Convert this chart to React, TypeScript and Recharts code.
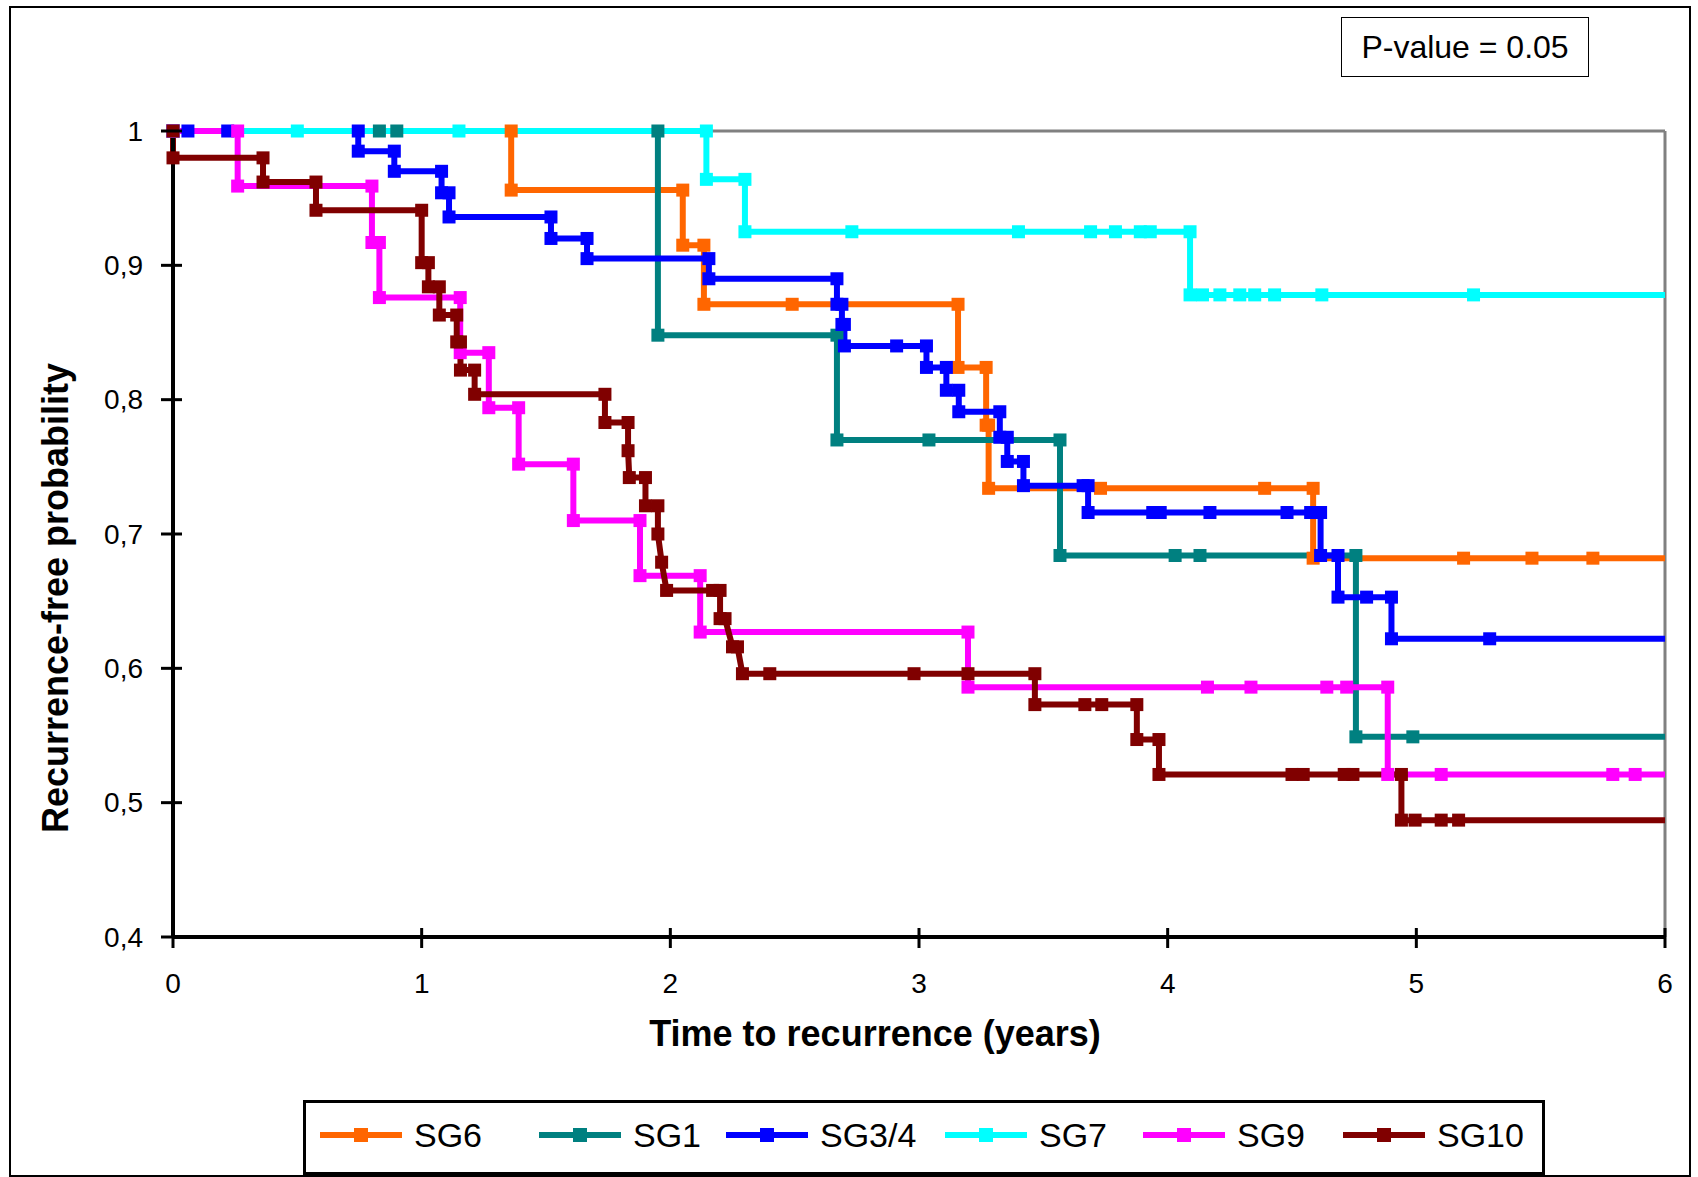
import React from "react";
import { LineChart, Line, XAxis, YAxis, ReferenceLine, Legend } from "recharts";

// time (years), recurrence-free probability
const sg6: [number, number][] = [
  [0, 1], [1.36, 1], [1.36, 0.956], [2.05, 0.956], [2.05, 0.915], [2.135, 0.915],
  [2.135, 0.871], [2.49, 0.871], [3.157, 0.871], [3.157, 0.824], [3.27, 0.824],
  [3.27, 0.781], [3.28, 0.781], [3.28, 0.734], [3.73, 0.734], [4.39, 0.734],
  [4.585, 0.734], [4.585, 0.682], [5.19, 0.682], [5.465, 0.682], [5.71, 0.682], [6, 0.682],
];

const sg1: [number, number][] = [
  [0, 1], [0.83, 1], [0.9, 1], [1.95, 1], [1.95, 0.848], [2.67, 0.848], [2.67, 0.77],
  [3.04, 0.77], [3.567, 0.77], [3.567, 0.684], [4.03, 0.684], [4.13, 0.684],
  [4.757, 0.684], [4.757, 0.549], [4.986, 0.549], [6, 0.549],
];

const sg34: [number, number][] = [
  [0, 1], [0.06, 1], [0.22, 1], [0.745, 1], [0.745, 0.985], [0.89, 0.985], [0.89, 0.97],
  [1.08, 0.97], [1.08, 0.954], [1.11, 0.954], [1.11, 0.936], [1.52, 0.936], [1.52, 0.92],
  [1.665, 0.92], [1.665, 0.905], [2.155, 0.905], [2.155, 0.89], [2.67, 0.89],
  [2.67, 0.871], [2.69, 0.871], [2.69, 0.856], [2.7, 0.856], [2.7, 0.84], [2.91, 0.84],
  [3.03, 0.84], [3.03, 0.824], [3.11, 0.824], [3.11, 0.807], [3.16, 0.807],
  [3.16, 0.791], [3.325, 0.791], [3.325, 0.772], [3.355, 0.772], [3.355, 0.754],
  [3.42, 0.754], [3.42, 0.736], [3.66, 0.736], [3.68, 0.736], [3.68, 0.716],
  [3.94, 0.716], [3.97, 0.716], [4.17, 0.716], [4.48, 0.716], [4.575, 0.716],
  [4.615, 0.716], [4.615, 0.684], [4.685, 0.684], [4.685, 0.653], [4.8, 0.653],
  [4.9, 0.653], [4.9, 0.622], [5.295, 0.622], [6, 0.622],
];

const sg7: [number, number][] = [
  [0, 1], [0.5, 1], [1.15, 1], [2.145, 1], [2.145, 0.964], [2.3, 0.964], [2.3, 0.925],
  [2.73, 0.925], [3.4, 0.925], [3.69, 0.925], [3.79, 0.925], [3.89, 0.925],
  [3.93, 0.925], [4.09, 0.925], [4.09, 0.878], [4.14, 0.878], [4.21, 0.878],
  [4.29, 0.878], [4.35, 0.878], [4.43, 0.878], [4.62, 0.878], [5.23, 0.878], [6, 0.878],
];

const sg9: [number, number][] = [
  [0, 1], [0.26, 1], [0.26, 0.959], [0.8, 0.959], [0.8, 0.917], [0.83, 0.917],
  [0.83, 0.876], [1.155, 0.876], [1.155, 0.835], [1.27, 0.835], [1.27, 0.794],
  [1.39, 0.794], [1.39, 0.752], [1.61, 0.752], [1.61, 0.71], [1.878, 0.71],
  [1.878, 0.669], [2.12, 0.669], [2.12, 0.627], [3.197, 0.627], [3.197, 0.586],
  [4.16, 0.586], [4.335, 0.586], [4.64, 0.586], [4.72, 0.586], [4.885, 0.586],
  [4.885, 0.521], [5.1, 0.521], [5.79, 0.521], [5.88, 0.521], [6, 0.521],
];

const sg10: [number, number][] = [
  [0, 1], [0, 0.98], [0.362, 0.98], [0.362, 0.962], [0.575, 0.962], [0.575, 0.941],
  [1.0, 0.941], [1.0, 0.902], [1.027, 0.902], [1.027, 0.884], [1.071, 0.884],
  [1.071, 0.863], [1.141, 0.863], [1.141, 0.843], [1.156, 0.843], [1.156, 0.822],
  [1.213, 0.822], [1.213, 0.804], [1.737, 0.804], [1.737, 0.783], [1.83, 0.783],
  [1.83, 0.762], [1.835, 0.742], [1.9, 0.742], [1.9, 0.721], [1.95, 0.721],
  [1.95, 0.7], [1.965, 0.679], [1.985, 0.658], [2.17, 0.658], [2.2, 0.658],
  [2.2, 0.637], [2.22, 0.637], [2.25, 0.616], [2.27, 0.616], [2.29, 0.596],
  [2.4, 0.596], [2.98, 0.596], [3.197, 0.596], [3.466, 0.596], [3.466, 0.573],
  [3.667, 0.573], [3.735, 0.573], [3.876, 0.573], [3.876, 0.547], [3.965, 0.547],
  [3.965, 0.521], [4.5, 0.521], [4.545, 0.521], [4.71, 0.521], [4.745, 0.521],
  [4.94, 0.521], [4.94, 0.487], [4.995, 0.487], [5.1, 0.487], [5.17, 0.487], [6, 0.487],
];

const xTicks = [0, 1, 2, 3, 4, 5, 6];
const yTicks = [0.4, 0.5, 0.6, 0.7, 0.8, 0.9, 1];

const series = [
  { name: "SG6", color: "#FF6600", points: sg6 },
  { name: "SG1", color: "#008080", points: sg1 },
  { name: "SG3/4", color: "#0000FF", points: sg34 },
  { name: "SG7", color: "#00FFFF", points: sg7 },
  { name: "SG9", color: "#FF00FF", points: sg9 },
  { name: "SG10", color: "#800000", points: sg10 },
];

const FONT = '"Liberation Sans", Arial, sans-serif';

// legend item left edges inside the legend box
const legendX = [14, 233, 420, 639, 837, 1037];

const XTick = (props: any) => {
  const { x, y, payload } = props;
  return (
    <g>
      <line x1={x} x2={x} y1={y - 9} y2={y + 11} stroke="#000" strokeWidth={3} />
      <text x={x} y={y + 46} textAnchor="middle" dominantBaseline="central"
        fontSize={28} fontFamily={FONT} fill="#000">
        {payload.value}
      </text>
    </g>
  );
};

const YTick = (props: any) => {
  const { x, y, payload } = props;
  const v = payload.value;
  const label = v === 1 ? "1" : v.toFixed(1).replace(".", ",");
  return (
    <g>
      <line x1={x - 12} x2={x + 9} y1={y} y2={y} stroke="#000" strokeWidth={3} />
      <text x={x - 30} y={y} textAnchor="end" dominantBaseline="central"
        fontSize={28} fontFamily={FONT} fill="#000">
        {label}
      </text>
    </g>
  );
};

const squareDot = (color: string, count: number) => (props: any) => {
  const { cx, cy, index } = props;
  if (index === count - 1 || cx == null) return <g key={`d${index}`} />;
  return <rect key={`d${index}`} x={cx - 6.5} y={cy - 6.5} width={13} height={13} fill={color} />;
};

// keep the legend in series order (recharts sorts the payload by name)
const renderLegend = (props: any) => {
  const payload = props.payload || [];
  const items = series.map((s) => payload.find((p: any) => p.value === s.name) || { value: s.name, color: s.color });
  return (
    <svg width={1236} height={69} style={{ display: "block" }}>
      {items.map((item: any, i: number) => {
        const x0 = legendX[i];
        return (
          <g key={item.value}>
            <line x1={x0} x2={x0 + 82} y1={32} y2={32} stroke={item.color} strokeWidth={6} />
            <rect x={x0 + 34} y={25} width={14} height={14} fill={item.color} />
            <text x={x0 + 94} y={32} dominantBaseline="central" fontSize={34}
              fontFamily={FONT} fill="#000">
              {item.value}
            </text>
          </g>
        );
      })}
    </svg>
  );
};

export default function App() {
  return (
    <div style={{ position: "absolute", left: 0, top: 0, width: 1698, height: 1177, background: "#fff", fontFamily: FONT }}>
      <div style={{ position: "absolute", left: 9, top: 6, width: 1682, height: 1171, border: "2px solid #000", boxSizing: "border-box" }} />
      <div style={{ position: "absolute", left: 0, top: 0 }}>
        <LineChart width={1698} height={1177} margin={{ top: 131, right: 33, bottom: 140, left: 73 }}>
          <XAxis type="number" dataKey="t" domain={[0, 6]} ticks={xTicks} height={100}
            axisLine={{ stroke: "#000", strokeWidth: 4 }} tickLine={false} tickSize={0} tickMargin={0}
            tick={<XTick />} interval={0} />
          <YAxis type="number" dataKey="p" domain={[0.4, 1]} ticks={yTicks} width={100}
            axisLine={{ stroke: "#000", strokeWidth: 4 }} tickLine={false} tickSize={0} tickMargin={0}
            tick={<YTick />} interval={0} />
          <ReferenceLine y={1} stroke="#808080" strokeWidth={3} />
          <ReferenceLine x={6} stroke="#808080" strokeWidth={3} />
          {series.map((s) => {
            const data = s.points.map(([t, p]) => ({ t, p }));
            return (
              <Line key={s.name} name={s.name} data={data} dataKey="p" type="linear"
                stroke={s.color} strokeWidth={6} dot={squareDot(s.color, data.length)}
                activeDot={false} isAnimationActive={false} />
            );
          })}
          <Legend layout="horizontal" verticalAlign="middle" align="center" content={renderLegend}
            wrapperStyle={{ position: "absolute", left: 303, top: 1100, width: 1242, height: 75,
              border: "3px solid #000", boxSizing: "border-box", background: "#fff" }} />
        </LineChart>
      </div>
      <div style={{ position: "absolute", left: 1341, top: 17, width: 248, height: 60, border: "1.5px solid #000",
        boxSizing: "border-box", display: "flex", alignItems: "center", justifyContent: "center",
        fontSize: 32, color: "#000", background: "#fff" }}>
        P-value = 0.05
      </div>
      <div style={{ position: "absolute", left: 875, top: 1034, transform: "translate(-50%, -50%)",
        fontSize: 36, fontWeight: "bold", whiteSpace: "nowrap", color: "#000" }}>
        Time to recurrence (years)
      </div>
      <div style={{ position: "absolute", left: 56, top: 598, transform: "translate(-50%, -50%) rotate(-90deg)",
        fontSize: 36, fontWeight: "bold", whiteSpace: "nowrap", color: "#000" }}>
        Recurrence-free probability
      </div>
    </div>
  );
}
